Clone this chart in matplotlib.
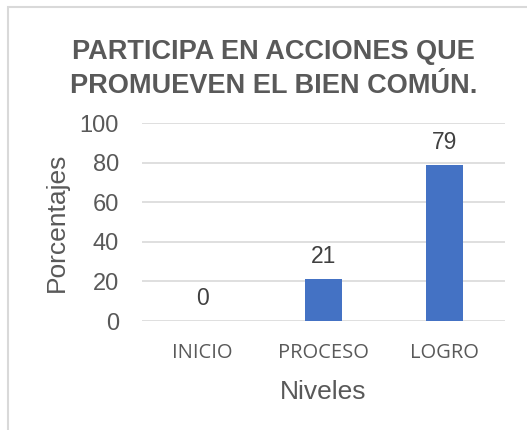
import matplotlib.pyplot as plt
from matplotlib.patches import Rectangle

niveles = ["INICIO", "PROCESO", "LOGRO"]
porcentajes = [0, 21, 79]
yticks = [0, 20, 40, 60, 80, 100]

gris = "#595959"
azul = "#4472C4"

fig = plt.figure(figsize=(5.27, 4.30), dpi=100)
# marco del grafico
fig.patches.append(Rectangle((8 / 527, -0.01), 1.0, 1 - 7 / 430 + 0.01,
                             transform=fig.transFigure, fill=False,
                             edgecolor="#d9d9d9", linewidth=1.5))

ax = fig.add_axes([142 / 527, 1 - 321 / 430, (505 - 142) / 527, (321 - 123) / 430])
x = range(len(niveles))
ax.bar(x, porcentajes, width=0.31, color=azul, zorder=3)
ax.set_xlim(-0.5, 2.5)
ax.set_ylim(0, 100)
ax.set_yticks(yticks)
ax.set_yticklabels([str(v) for v in yticks], fontsize=17, color=gris,
                   family="Liberation Sans")
ax.set_xticks(list(x))
ax.set_xticklabels(niveles, fontsize=14.5, color=gris, family="Open Sans")
ax.tick_params(axis="y", length=0, pad=16.5)
ax.tick_params(axis="x", length=0, pad=16)
ax.grid(axis="y", color="#d9d9d9", linewidth=1.2, zorder=0)
for s in ax.spines.values():
    s.set_visible(False)

for xi, v in zip(x, porcentajes):
    ax.annotate(str(v), (xi, v), xytext=(0, 11.5), textcoords="offset points",
                ha="center", va="baseline", fontsize=16.5,
                color="#404040", family="Liberation Sans")

ax.set_ylabel("Porcentajes", fontsize=19, color=gris, family="Liberation Sans",
              labelpad=8)
ax.set_xlabel("Niveles", fontsize=19, color=gris, family="Liberation Sans",
              labelpad=12)

fig.text(0.5 + 10 / 527, 1 - 69.5 / 430, "PARTICIPA EN ACCIONES QUE\nPROMUEVEN EL BIEN COMÚN.",
         ha="center", va="center", fontsize=19.5, fontweight="bold", color=gris,
         family="Liberation Sans", linespacing=1.4)

fig.savefig("out.png", dpi=100)
